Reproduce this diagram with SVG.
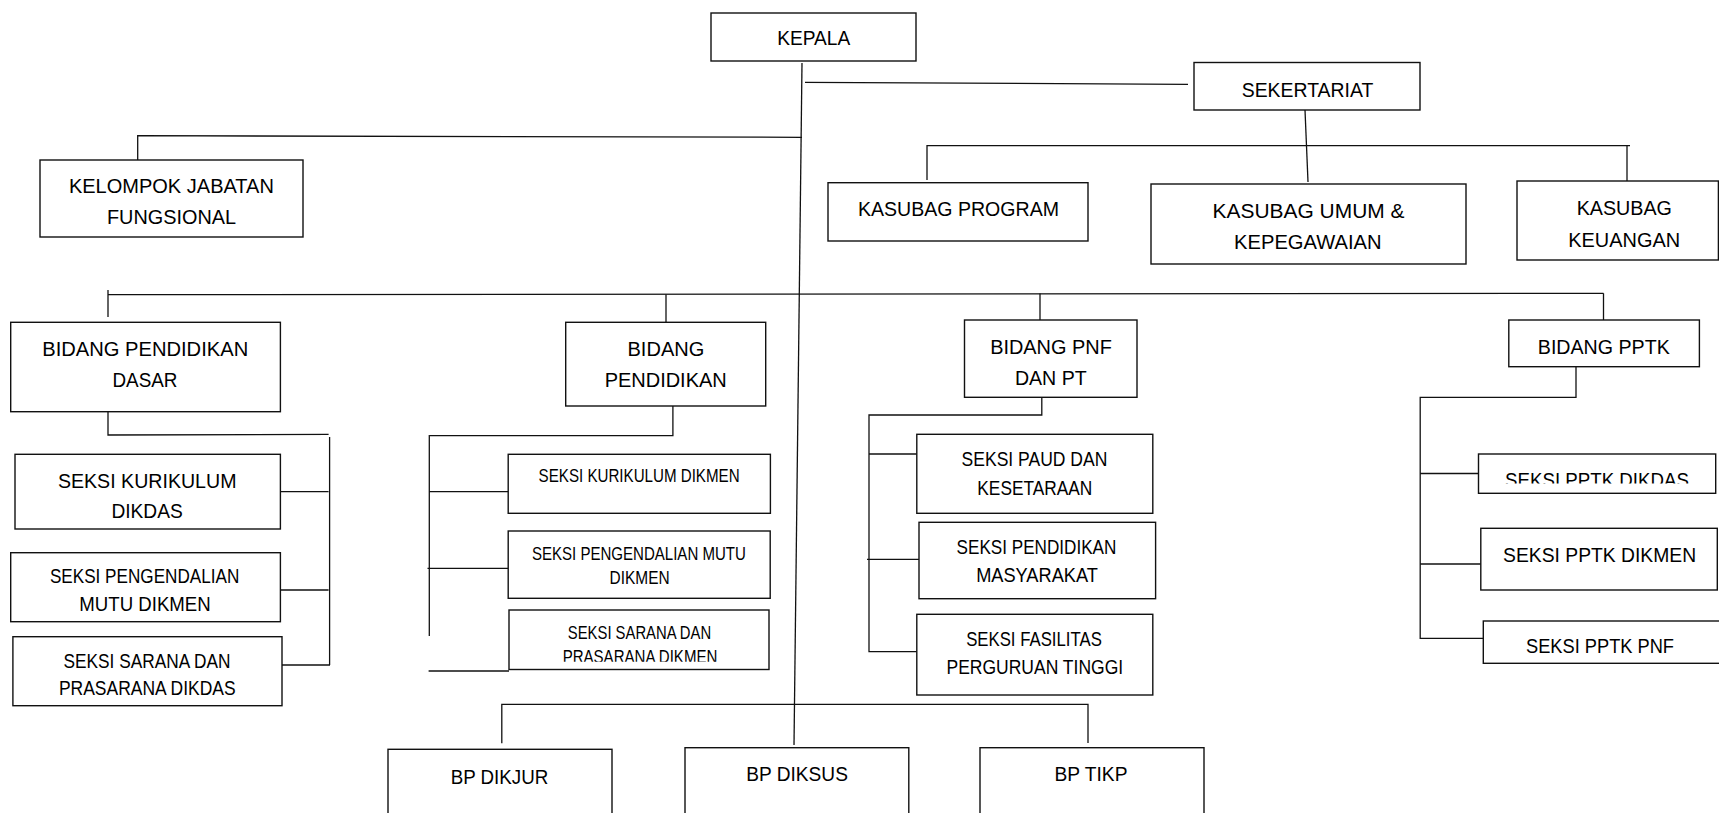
<svg xmlns="http://www.w3.org/2000/svg" width="1719" height="813" viewBox="0 0 1719 813">
<style>
.b{fill:#fff;stroke:#111;stroke-width:1.4}
.c path{fill:none;stroke:#111;stroke-width:1.3}
text{font-family:"Liberation Sans",Arial,sans-serif;fill:#000;text-anchor:middle}
.t{font-size:20.3px}
.m{font-size:19.3px}
.s{font-size:17.5px}
</style>
<defs>
<clipPath id="clipA"><rect x="500" y="600" width="280" height="61.7"/></clipPath>
<clipPath id="clipB"><rect x="1470" y="440" width="260" height="43.5"/></clipPath>
</defs>
<rect width="1719" height="813" fill="#fff"/>
<g id="connectors" class="c">
<path d="M802 63 L794 745"/>
<path d="M805 82.3 L1188 84.3"/>
<path d="M802 137.3 L137.7 135.7 L137.7 162"/>
<path d="M1305 110 L1308 182"/>
<path d="M927 180 L927 145.7 L1630 145.7"/>
<path d="M1627 145.7 L1627 181"/>
<path d="M108 290 L108 317"/>
<path d="M108 294.7 L1603.5 293.3"/>
<path d="M666 294.5 L666 322"/>
<path d="M1040 293.5 L1040 320"/>
<path d="M1603.5 293.3 L1603.5 320"/>
<path d="M108 411.7 L108 435 L328.6 434.3"/>
<path d="M329.6 437 L329.6 665"/>
<path d="M280.4 491.7 L328.6 491.7"/>
<path d="M280.4 590 L328.6 590"/>
<path d="M282 665 L330 665"/>
<path d="M672.9 406 L672.9 435.7 L430 435.7"/>
<path d="M429.3 435 L429.3 636"/>
<path d="M429.3 491.7 L508.2 491.7"/>
<path d="M427.5 568.3 L508.2 568.3"/>
<path d="M428.6 671 L509 671"/>
<path d="M1041.8 397.3 L1041.8 415 L869 415 L869 651.7 L916.8 651.7"/>
<path d="M869 454 L916.8 454"/>
<path d="M867 559.3 L919 559.3"/>
<path d="M1576 366.7 L1576 397.3 L1420.2 397.3 L1420.2 638.3 L1483.3 638.3"/>
<path d="M1420.2 473.5 L1478.5 473.5"/>
<path d="M1420.2 564 L1480.8 564"/>
<path d="M501.8 743.3 L501.8 704.3 L1088 704.3 L1088 743"/>
</g>
<g id="kepala"><rect class="b" x="711" y="13" width="205" height="48"/><text class="t" x="813.7" y="45" textLength="73" lengthAdjust="spacingAndGlyphs">KEPALA</text></g>
<g id="sekertariat"><rect class="b" x="1194" y="62.5" width="226" height="47.5"/><text class="t" x="1307.5" y="96.7" textLength="131.5" lengthAdjust="spacingAndGlyphs">SEKERTARIAT</text></g>
<g id="kelompok-jabatan-fungsional"><rect class="b" x="40" y="160" width="263" height="77"/><text class="t" x="171.4" y="193.3" textLength="205" lengthAdjust="spacingAndGlyphs">KELOMPOK JABATAN</text><text class="t" x="171.5" y="224" textLength="129" lengthAdjust="spacingAndGlyphs">FUNGSIONAL</text></g>
<g id="kasubag-program"><rect class="b" x="828" y="182.7" width="260" height="58.3"/><text class="t" x="958.5" y="216" textLength="201" lengthAdjust="spacingAndGlyphs">KASUBAG PROGRAM</text></g>
<g id="kasubag-umum"><rect class="b" x="1151" y="184" width="315" height="80"/><text class="t" x="1308.5" y="218.3" textLength="192" lengthAdjust="spacingAndGlyphs">KASUBAG UMUM &amp;</text><text class="t" x="1307.8" y="249.3" textLength="147.4" lengthAdjust="spacingAndGlyphs">KEPEGAWAIAN</text></g>
<g id="kasubag-keuangan"><rect class="b" x="1517" y="181" width="201.4" height="79"/><text class="t" x="1624.3" y="215" textLength="95.3" lengthAdjust="spacingAndGlyphs">KASUBAG</text><text class="t" x="1624.2" y="246.7" textLength="111.8" lengthAdjust="spacingAndGlyphs">KEUANGAN</text></g>
<g id="bidang-pendidikan-dasar"><rect class="b" x="10.7" y="322.3" width="269.7" height="89.4"/><text class="t" x="145.2" y="356" textLength="206" lengthAdjust="spacingAndGlyphs">BIDANG PENDIDIKAN</text><text class="t" x="145" y="387.3" textLength="65" lengthAdjust="spacingAndGlyphs">DASAR</text></g>
<g id="seksi-kurikulum-dikdas"><rect class="b" x="15" y="454.3" width="265.4" height="74.7"/><text class="t" x="147.2" y="488.3" textLength="178.6" lengthAdjust="spacingAndGlyphs">SEKSI KURIKULUM</text><text class="t" x="147.1" y="518.3" textLength="71.4" lengthAdjust="spacingAndGlyphs">DIKDAS</text></g>
<g id="seksi-pengendalian-mutu-dikdas"><rect class="b" x="10.7" y="552.7" width="269.7" height="69"/><text class="m" x="144.6" y="583.3" textLength="189.3" lengthAdjust="spacingAndGlyphs">SEKSI PENGENDALIAN</text><text class="m" x="145" y="611" textLength="131.4" lengthAdjust="spacingAndGlyphs">MUTU DIKMEN</text></g>
<g id="seksi-sarana-dikdas"><rect class="b" x="12.9" y="636.7" width="269.1" height="69"/><text class="m" x="147" y="667.7" textLength="166.8" lengthAdjust="spacingAndGlyphs">SEKSI SARANA DAN</text><text class="m" x="147.3" y="695" textLength="176.8" lengthAdjust="spacingAndGlyphs">PRASARANA DIKDAS</text></g>
<g id="bidang-pendidikan"><rect class="b" x="565.7" y="322.3" width="200" height="83.7"/><text class="t" x="665.9" y="356" textLength="76.8" lengthAdjust="spacingAndGlyphs">BIDANG</text><text class="t" x="665.7" y="387.3" textLength="122.1" lengthAdjust="spacingAndGlyphs">PENDIDIKAN</text></g>
<g id="seksi-kurikulum-dikmen"><rect class="b" x="508.2" y="454.3" width="262.2" height="59"/><text class="s" x="639.1" y="482.3" textLength="201" lengthAdjust="spacingAndGlyphs">SEKSI KURIKULUM DIKMEN</text></g>
<g id="seksi-pengendalian-mutu-dikmen"><rect class="b" x="508.2" y="531" width="262" height="67.3"/><text class="s" x="638.9" y="560" textLength="214" lengthAdjust="spacingAndGlyphs">SEKSI PENGENDALIAN MUTU</text><text class="s" x="639.6" y="584.3" textLength="60" lengthAdjust="spacingAndGlyphs">DIKMEN</text></g>
<g id="seksi-sarana-dikmen"><rect class="b" x="509" y="610" width="260" height="59.5"/><text class="s" x="639.5" y="639" textLength="143.3" lengthAdjust="spacingAndGlyphs">SEKSI SARANA DAN</text><text class="s" x="640" y="663.3" textLength="154.7" lengthAdjust="spacingAndGlyphs" clip-path="url(#clipA)">PRASARANA DIKMEN</text></g>
<g id="bidang-pnf-pt"><rect class="b" x="964.5" y="320" width="172.5" height="77.3"/><text class="t" x="1051" y="354" textLength="121.7" lengthAdjust="spacingAndGlyphs">BIDANG PNF</text><text class="t" x="1050.8" y="385" textLength="71.8" lengthAdjust="spacingAndGlyphs">DAN PT</text></g>
<g id="seksi-paud"><rect class="b" x="916.8" y="434.3" width="236" height="79"/><text class="m" x="1034.5" y="466" textLength="145.8" lengthAdjust="spacingAndGlyphs">SEKSI PAUD DAN</text><text class="m" x="1034.8" y="495" textLength="114.9" lengthAdjust="spacingAndGlyphs">KESETARAAN</text></g>
<g id="seksi-pendidikan-masyarakat"><rect class="b" x="919" y="522.3" width="236.6" height="76.4"/><text class="m" x="1036.5" y="554" textLength="159.8" lengthAdjust="spacingAndGlyphs">SEKSI PENDIDIKAN</text><text class="m" x="1037" y="581.7" textLength="121.7" lengthAdjust="spacingAndGlyphs">MASYARAKAT</text></g>
<g id="seksi-fasilitas-pt"><rect class="b" x="916.8" y="614.3" width="236" height="80.7"/><text class="m" x="1034" y="645.7" textLength="135.7" lengthAdjust="spacingAndGlyphs">SEKSI FASILITAS</text><text class="m" x="1034.8" y="674.3" textLength="176.6" lengthAdjust="spacingAndGlyphs">PERGURUAN TINGGI</text></g>
<g id="bidang-pptk"><rect class="b" x="1508.8" y="320" width="190.6" height="46.7"/><text class="t" x="1603.8" y="354" textLength="132" lengthAdjust="spacingAndGlyphs">BIDANG PPTK</text></g>
<g id="seksi-pptk-dikdas"><rect class="b" x="1478.5" y="454" width="237.2" height="39.3"/><text class="t" x="1597" y="487" textLength="184" lengthAdjust="spacingAndGlyphs" clip-path="url(#clipB)">SEKSI PPTK DIKDAS</text></g>
<g id="seksi-pptk-dikmen"><rect class="b" x="1480.8" y="528.3" width="236.5" height="61.7"/><text class="t" x="1599.6" y="562.3" textLength="193" lengthAdjust="spacingAndGlyphs">SEKSI PPTK DIKMEN</text></g>
<g id="seksi-pptk-pnf"><rect class="b" x="1483.3" y="621" width="240" height="42.3"/><text class="t" x="1600" y="653.3" textLength="148" lengthAdjust="spacingAndGlyphs">SEKSI PPTK PNF</text></g>
<g id="bp-dikjur"><rect class="b" x="388" y="749.3" width="224" height="80"/><text class="t" x="499.5" y="784" textLength="97.6" lengthAdjust="spacingAndGlyphs">BP DIKJUR</text></g>
<g id="bp-diksus"><rect class="b" x="685" y="747.7" width="223.8" height="80"/><text class="t" x="797.1" y="780.7" textLength="101.6" lengthAdjust="spacingAndGlyphs">BP DIKSUS</text></g>
<g id="bp-tikp"><rect class="b" x="980" y="747.7" width="224" height="80"/><text class="t" x="1091" y="780.7" textLength="72.9" lengthAdjust="spacingAndGlyphs">BP TIKP</text></g>
</svg>
